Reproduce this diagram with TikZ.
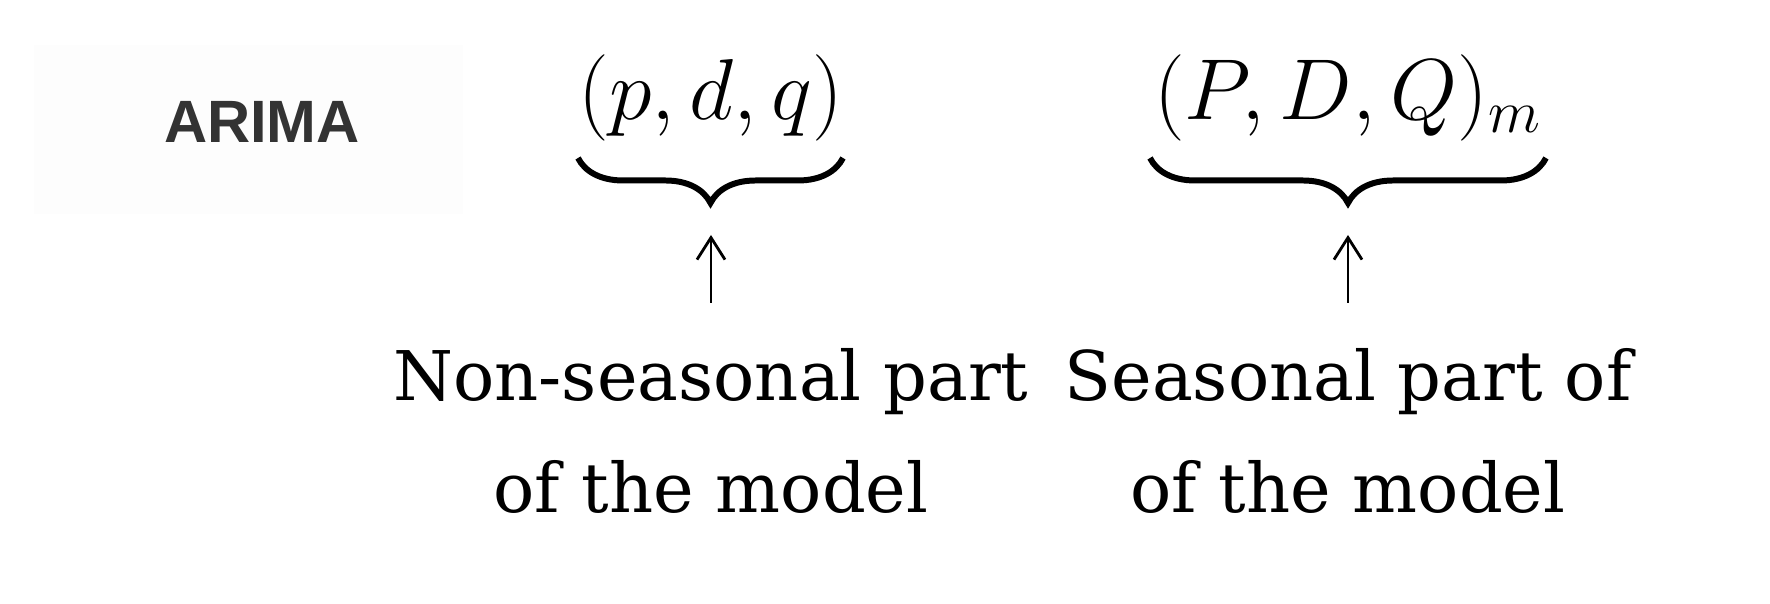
\RequirePackage{fix-cm}
\documentclass[tikz,border=0pt]{standalone}
\usepackage{fontspec}
\newfontfamily\arimafont{Liberation Sans}
\newfontfamily\partfont{DejaVu Serif}
\usetikzlibrary{positioning, arrows.meta, decorations.pathreplacing}
\definecolor{boxgray}{RGB}{253,253,253}
\definecolor{titlegray}{RGB}{51,51,51}

\begin{document}
\begin{tikzpicture}[x=0.1mm, y=-0.1mm, >={Straight Barb[length=2.2mm, width=2.8mm]},
		order/.style={anchor=base, inner sep=0pt, font=\fontsize{24.6}{29}\selectfont},
		curly/.style={decorate, decoration={brace, mirror, amplitude=4.5mm}, line width=1.7pt},
		partlabel/.style={anchor=north, inner sep=0pt, align=center, font=\partfont\fontsize{19.5}{31.9}\selectfont}]
		\useasboundingbox (0,0) rectangle (1770,604);
		\node[fill=boxgray, minimum width=42.9mm, minimum height=16.9mm, inner sep=0pt] (arimabox) at (248.5,129.5) {};
		\node[anchor=base, inner sep=0pt, text=titlegray, font=\arimafont\bfseries\fontsize{17}{20}\selectfont] (arima) at (262,143) {ARIMA};

		\node[order] (order1) at (711,120) {$(p,d,q)$};
		\coordinate (tip1) at (711,203);
		\draw[curly] (578,158) -- (843,158);
		\node[partlabel] (label1) at (711,348) {Non-seasonal part\\of the model};
		\draw[->, line width=0.8pt, shorten <=4.5mm, shorten >=3.2mm] (label1) -- (tip1);

		\node[order] (order2) at (1348,120) {$(P,D,Q)_m$};
		\coordinate (tip2) at (1348,203);
		\draw[curly] (1150,158) -- (1546,158);
		\node[partlabel] (label2) at (1348,348) {Seasonal part of\\of the model};
		\draw[->, line width=0.8pt, shorten <=4.5mm, shorten >=3.2mm] (label2) -- (tip2);
	\end{tikzpicture}
\end{document}
